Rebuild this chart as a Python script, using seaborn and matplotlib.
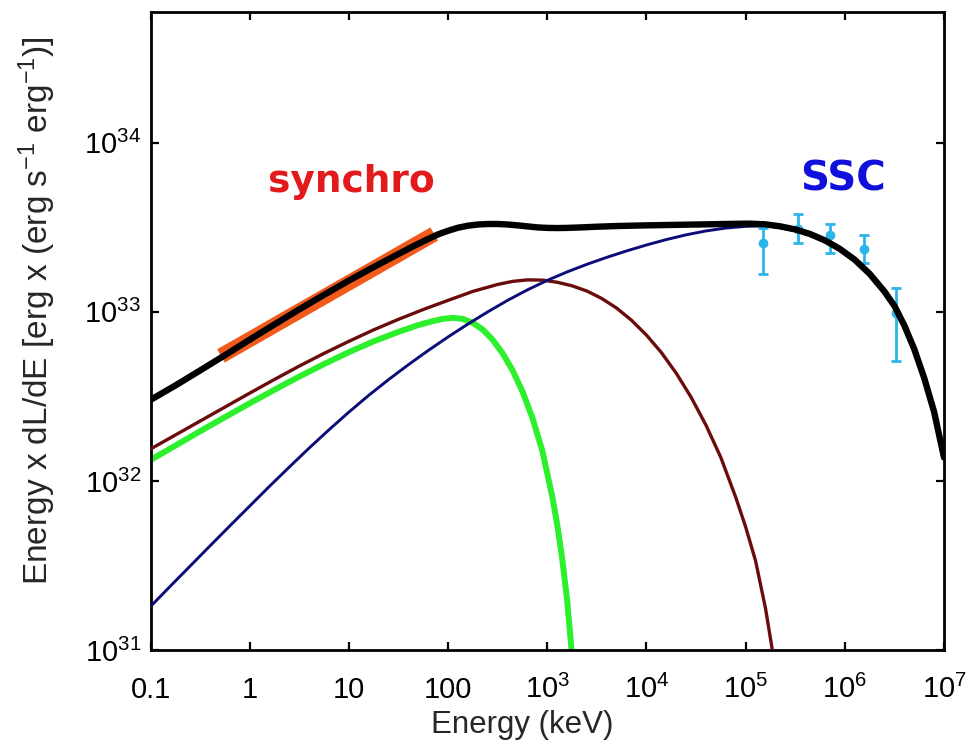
import numpy as np
import pandas as pd
import matplotlib
matplotlib.use("Agg")
import matplotlib.pyplot as plt
import seaborn as sns

# ---- spectral components: log10(E / keV) and log10(E dL/dE / erg s^-1) ----
green_logE = [-1.0, -0.75, -0.5, -0.25, 0.0, 0.25, 0.5, 0.75, 1.0, 1.25, 1.5,
              1.7, 1.85, 1.95, 2.05, 2.15, 2.25, 2.35, 2.45, 2.55, 2.65, 2.75,
              2.85, 2.95, 3.05, 3.1, 3.15, 3.2, 3.245]
green_logL = [32.125, 32.21, 32.295, 32.378, 32.46, 32.54, 32.618, 32.692,
              32.762, 32.826, 32.882, 32.922, 32.946, 32.959, 32.965, 32.958,
              32.935, 32.895, 32.835, 32.755, 32.655, 32.53, 32.375, 32.18,
              31.91, 31.745, 31.545, 31.30, 31.0]

brown_logE = [-1.0, -0.75, -0.5, -0.25, 0.0, 0.25, 0.5, 0.75, 1.0, 1.25, 1.5,
              1.75, 2.0, 2.25, 2.5, 2.65, 2.8, 2.95, 3.1, 3.25, 3.4, 3.55,
              3.7, 3.85, 4.0, 4.15, 4.3, 4.45, 4.6, 4.75, 4.9, 5.0, 5.1, 5.2,
              5.27]
brown_logL = [32.19, 32.2725, 32.355, 32.4375, 32.52, 32.601, 32.68, 32.755,
              32.826, 32.894, 32.956, 33.014, 33.068, 33.121, 33.162, 33.18,
              33.189, 33.1875, 33.175, 33.154, 33.123, 33.079, 33.022, 32.95,
              32.863, 32.76, 32.638, 32.496, 32.331, 32.14, 31.905, 31.73,
              31.53, 31.25, 31.0]

ssc_logE = [-1.0, -0.8, -0.6, -0.4, -0.2, 0.0, 0.2, 0.4, 0.6, 0.8, 1.0, 1.2,
            1.4, 1.6, 1.8, 2.0, 2.2, 2.4, 2.6, 2.8, 3.0, 3.2, 3.4, 3.6, 3.8,
            4.0, 4.2, 4.4, 4.6, 4.8, 5.0, 5.2, 5.35, 5.5, 5.65, 5.8, 5.95,
            6.1, 6.25, 6.4, 6.5, 6.6, 6.7, 6.8, 6.9, 7.0]
ssc_logL = [31.26, 31.38, 31.499, 31.618, 31.736, 31.853, 31.97, 32.084,
            32.196, 32.304, 32.408, 32.507, 32.60, 32.688, 32.772, 32.852,
            32.928, 33.0, 33.068, 33.13, 33.186, 33.236, 33.281, 33.322,
            33.36, 33.395, 33.427, 33.455, 33.478, 33.495, 33.505, 33.508,
            33.497, 33.479, 33.452, 33.414, 33.364, 33.30, 33.217, 33.112,
            33.027, 32.912, 32.772, 32.602, 32.402, 32.132]

total_logE = [-1.0, -0.75, -0.5, -0.25, 0.0, 0.25, 0.5, 0.75, 1.0, 1.25, 1.5,
              1.65, 1.8, 1.9, 2.0, 2.1, 2.2, 2.3, 2.4, 2.5, 2.6, 2.7, 2.8,
              2.9, 3.0, 3.1, 3.2, 3.35, 3.5, 3.7, 4.0, 4.3, 4.6, 4.9, 5.05,
              5.2, 5.35, 5.5, 5.65, 5.8, 5.95, 6.1, 6.25, 6.4, 6.5, 6.6, 6.7,
              6.8, 6.9, 7.0]
total_logL = [32.48, 32.565, 32.654, 32.744, 32.836, 32.926, 33.015, 33.101,
              33.185, 33.265, 33.342, 33.388, 33.431, 33.458, 33.479, 33.497,
              33.509, 33.516, 33.519, 33.519, 33.516, 33.511, 33.505, 33.499,
              33.496, 33.495, 33.496, 33.499, 33.503, 33.507, 33.511, 33.514,
              33.517, 33.52, 33.521, 33.517, 33.505, 33.487, 33.46, 33.422,
              33.372, 33.308, 33.225, 33.12, 33.035, 32.92, 32.78, 32.61,
              32.41, 32.14]

# X-ray power-law band (synchrotron) endpoints
band_logE = [-0.29, 1.86]
band_logL = [32.74, 33.46]

# gamma-ray measurements with asymmetric errors
pts_E = [1.5e5, 3.4e5, 7.1e5, 1.55e6, 3.3e6]
pts_L = [2.54e33, 3.09e33, 2.84e33, 2.34e33, 9.8e32]
pts_lo = [1.68e33, 2.54e33, 2.22e33, 1.94e33, 5.1e32]
pts_hi = [3.12e33, 3.78e33, 3.31e33, 2.84e33, 1.38e33]

x_ticks = [1e-1, 1e0, 1e1, 1e2, 1e3, 1e4, 1e5, 1e6, 1e7]
x_ticklabels = ["0.1", "1", "10", "100", "$10^{3}$", "$10^{4}$", "$10^{5}$",
                "$10^{6}$", "$10^{7}$"]
y_ticks = [1e31, 1e32, 1e33, 1e34]
y_ticklabels = ["$10^{31}$", "$10^{32}$", "$10^{33}$", "$10^{34}$"]

sns.set_theme(style="ticks")
plt.rcParams.update({
    "font.family": ["Liberation Sans", "DejaVu Sans"],
    "mathtext.default": "regular",
    "axes.linewidth": 2.0,
    "axes.edgecolor": "black",
    "xtick.color": "black",
    "ytick.color": "black",
})

fig = plt.figure(figsize=(9.73, 7.52), dpi=100)
ax = fig.add_axes([0.1547, 0.135, 0.8155, 0.849])


def curve(logE, logL, color, lw, z, **kw):
    df = pd.DataFrame({"E": np.power(10.0, logE), "L": np.power(10.0, logL)})
    sns.lineplot(data=df, x="E", y="L", ax=ax, color=color, linewidth=lw,
                 sort=False, estimator=None, zorder=z, **kw)


curve(green_logE, green_logL, "#2df02d", 4.3, 2, solid_joinstyle="round")
curve(brown_logE, brown_logL, "#6b0c0c", 2.4, 3, solid_joinstyle="round")
curve(ssc_logE, ssc_logL, "#0c0c78", 2.1, 4, solid_joinstyle="round")
curve(band_logE, band_logL, "#f25a1c", 11, 5, solid_capstyle="butt")

pts_L_arr = np.array(pts_L)
yerr = np.vstack([pts_L_arr - np.array(pts_lo), np.array(pts_hi) - pts_L_arr])
ax.errorbar(pts_E, pts_L, yerr=yerr, fmt="o", color="#2cb5e8", ms=6,
            elinewidth=2.0, capsize=3.5, capthick=2.0, zorder=6)

curve(total_logE, total_logL, "black", 4.6, 7, solid_joinstyle="round")

ax.set_xscale("log")
ax.set_yscale("log")
ax.set_xlim(1e-1, 1e7)
ax.set_ylim(1e31, 10 ** 34.771)

ax.set_xticks(x_ticks)
ax.set_xticklabels(x_ticklabels)
ax.set_yticks(y_ticks)
ax.set_yticklabels(y_ticklabels)
ax.minorticks_off()
ax.tick_params(axis="both", which="major", direction="in", length=6,
               width=1.6, top=True, right=True, labelsize=21)
ax.tick_params(axis="x", pad=34)
ax.tick_params(axis="y", pad=7)
plt.setp(ax.get_xticklabels(), va="baseline")

ax.set_xlabel("Energy (keV)", fontsize=22.5)
ax.set_ylabel("Energy x dL/dE [erg x (erg s$^{-1}$ erg$^{-1}$)]", fontsize=24)
ax.xaxis.set_label_coords(0.469, -0.094)
ax.yaxis.set_label_coords(-0.117, 0.533)

ax.text(10 ** 1.03, 10 ** 33.767, "synchro", color="#e31a1c", fontsize=27,
        fontweight="bold", family="DejaVu Sans", ha="center", va="center")
ax.text(10 ** 5.98, 10 ** 33.78, "SSC", color="#1010dd", fontsize=29,
        fontweight="bold", family="DejaVu Sans", ha="center", va="center")

fig.savefig("out.png", dpi=100, facecolor="white")
